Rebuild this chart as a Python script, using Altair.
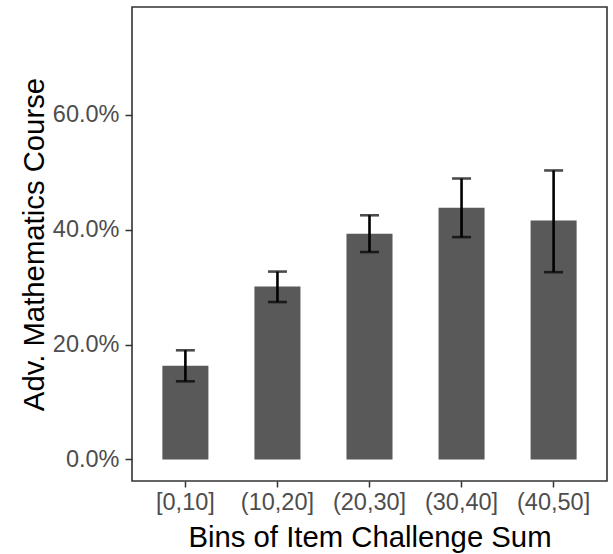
import altair as alt
import pandas as pd

# Share of students taking an advanced mathematics course, by bin of item challenge sum
bins = ["[0,10]", "(10,20]", "(20,30]", "(30,40]", "(40,50]"]
share = [0.163, 0.301, 0.393, 0.438, 0.416]
ci_low = [0.136, 0.274, 0.361, 0.387, 0.326]
ci_high = [0.190, 0.327, 0.425, 0.489, 0.503]

df = pd.DataFrame({"bin": bins, "share": share, "lo": ci_low, "hi": ci_high})

FONT = "Liberation Sans"

x_enc = alt.X(
    "bin:N",
    sort=bins,
    title="Bins of Item Challenge Sum",
    scale=alt.Scale(paddingInner=0.5, paddingOuter=0.33),
    axis=alt.Axis(
        labelAngle=0,
        labelFontSize=23.5,
        labelColor="#4D4D4D",
        labelFont=FONT,
        labelPadding=3,
        tickSize=6,
        tickColor="#333333",
        tickWidth=1.5,
        domain=False,
        grid=False,
        titleFontSize=29.3,
        titleFont=FONT,
        titleFontWeight="normal",
        titleColor="black",
        titlePadding=10,
    ),
)

y_scale = alt.Scale(domain=[-0.0375, 0.7875], nice=False, zero=False)

y_axis = alt.Axis(
    values=[0, 0.2, 0.4, 0.6],
    format=".1%",
    labelFontSize=23.5,
    labelColor="#4D4D4D",
    labelFont=FONT,
    labelPadding=6,
    tickSize=7,
    tickColor="#333333",
    tickWidth=1.5,
    domain=False,
    grid=False,
    titleFontSize=29.3,
    titleFont=FONT,
    titleFontWeight="normal",
    titleColor="black",
    titlePadding=3,
)

base = alt.Chart(df).encode(x=x_enc)

bars = base.mark_bar(color="#595959").encode(
    y=alt.Y("share:Q", scale=y_scale, axis=y_axis, title="Adv. Mathematics Course"),
    y2=alt.datum(0),
)

whisker = base.mark_rule(color="black", strokeWidth=2.6).encode(
    y="lo:Q",
    y2="hi:Q",
)

cap_low = base.mark_tick(color="black", size=19, thickness=2.6).encode(y="lo:Q")
cap_high = base.mark_tick(color="black", size=19, thickness=2.6).encode(y="hi:Q")

chart = (
    alt.layer(bars, whisker, cap_low, cap_high)
    .properties(
        width=475,
        height=474,
        autosize=alt.AutoSizeParams(type="none"),
        padding={"left": 132, "top": 7, "right": 6, "bottom": 73},
        background="white",
    )
    .configure_view(stroke="#333333", strokeWidth=1.6)
)

chart.save("out.html", embed_options={"renderer": "svg", "actions": False})
